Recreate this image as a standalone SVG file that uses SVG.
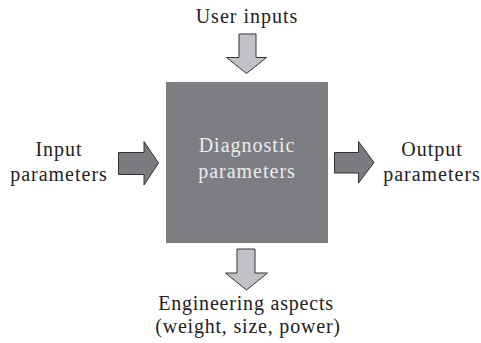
<svg xmlns="http://www.w3.org/2000/svg" width="481" height="343" viewBox="0 0 481 343">
<style>
text{font-family:"Liberation Serif","DejaVu Serif",serif;font-size:20px;letter-spacing:1px;fill:#222;text-anchor:middle}
.in{fill:#ececec}
.b{letter-spacing:0.8px}
.light{fill:#c2c2c6;stroke:#333;stroke-width:1}
.dark{fill:#7b7c80;stroke:#333;stroke-width:1}
</style>
<rect width="481" height="343" fill="#fff"/>
<g id="main">
<rect x="166" y="82" width="162" height="161" fill="#7d7e82"/>
<text class="in" x="247" y="152">Diagnostic</text>
<text class="in" x="247" y="178">parameters</text>
</g>
<g id="user-inputs"><text x="247" y="23">User inputs</text></g>
<g id="input-params"><text x="59" y="156">Input</text><text x="59" y="181">parameters</text></g>
<g id="output-params"><text x="432" y="156">Output</text><text x="432" y="181">parameters</text></g>
<g id="engineering"><text class="b" x="246" y="310">Engineering aspects</text><text class="b" x="248" y="333">(weight, size, power)</text></g>
<g id="connectors">
<polygon class="light" points="239,34 256,34 256,57.5 266.5,57.5 246.5,73.5 226.5,57.5 239,57.5"/>
<polygon class="dark" points="118.5,152.5 144,152.5 144,141.5 158.5,163 144,185 144,174.5 118.5,174.5"/>
<polygon class="dark" points="334.5,152.5 358.5,152.5 358.5,141.5 374,162.5 358.5,183 358.5,173 334.5,173"/>
<polygon class="light" points="237,249 255,249 255,273 267.5,273 246.5,290 225.5,273 237,273"/>
</g>
</svg>
